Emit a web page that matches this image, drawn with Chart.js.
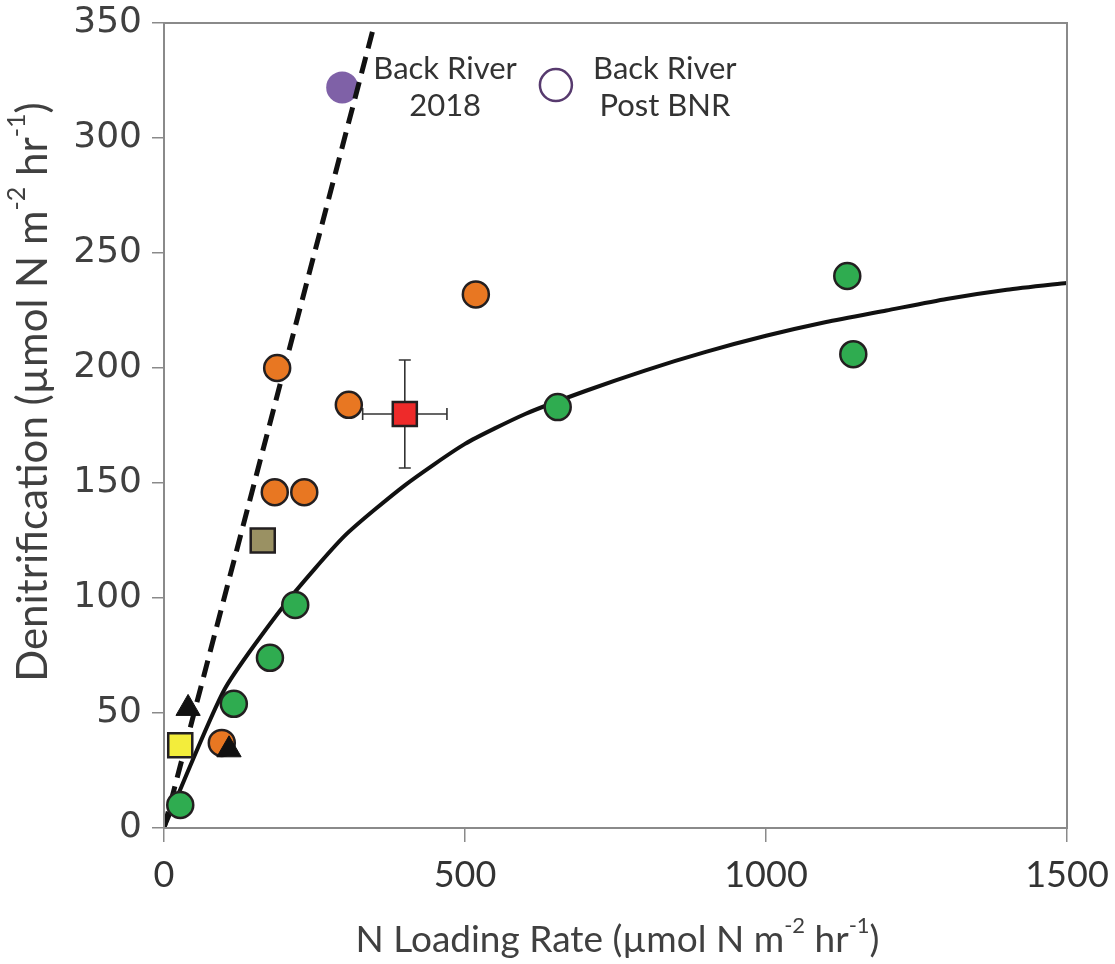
<!DOCTYPE html>
<html>
<head>
<meta charset="utf-8">
<script src="https://cdn.jsdelivr.net/npm/chart.js@4.4.1/dist/chart.umd.min.js"></script>
<style>
  html, body { margin: 0; padding: 0; background: #fff; }
  #wrap { width: 1115px; height: 964px; }
</style>
</head>
<body>
<div id="wrap"><canvas id="chart" width="1115" height="964"></canvas></div>
<script>
// Axis ticks
const xTicks = [0, 500, 1000, 1500];
const yTicks = [0, 50, 100, 150, 200, 250, 300, 350];

// Orange circles
const orangeX = [188, 184, 233, 307, 518, 96];
const orangeY = [200, 146, 146, 184, 232, 37];

// Green circles
const greenX = [27, 116, 176, 218, 654, 1135, 1145];
const greenY = [10, 54, 74, 97, 183, 240, 206];

// Squares
const yellowX = [27];   const yellowY = [36];
const oliveX = [164];   const oliveY = [125];
const redX = [400];     const redY = [180];
const redXErr = [70];   const redYErr = [23.5];

// Triangles
const triX = [40, 108];
const triY = [52, 34];

// Back River points
const br2018X = [296];  const br2018Y = [322];
const brPostX = [651];  const brPostY = [323];

// 1:1 dashed line
const oneToOneX = [0, 350];
const oneToOneY = [0, 350];

// fitted saturation curve
const fitX = [0, 100, 200, 300, 400, 500, 600, 700, 800, 900, 1000, 1100, 1200, 1300, 1400, 1500];
const fitY = [0, 60, 97, 127, 149, 167, 180, 190, 199, 207, 214, 220, 225, 230, 234, 237];

// text labels next to the Back River markers
const noteLines = [
    { x: 467, y: 330, text: 'Back River' },
    { x: 467, y: 314, text: '2018' },
    { x: 832, y: 330, text: 'Back River' },
    { x: 832, y: 314, text: 'Post BNR' }
];

const xTitle = [['N Loading Rate (\u00b5mol N m', 0], ['-2', 1], [' hr', 0], ['-1', 1], [')', 0]];
const yTitle = [['Denitrification (\u00b5mol N m', 0], ['-2', 1], [' hr', 0], ['-1', 1], [')', 0]];

const EDGE = '#231f20';

function pts(xs, ys) {
    return xs.map((x, i) => ({ x: x, y: ys[i] }));
}

function drawRich(ctx, parts, size, family) {
    // draws centered at (0,0), baseline middle
    let total = 0;
    const widths = parts.map(([t, sup]) => {
        ctx.font = (sup ? Math.round(size * 0.6) : size) + 'px ' + family;
        const w = ctx.measureText(t).width;
        total += w;
        return w;
    });
    let x = -total / 2;
    parts.forEach(([t, sup], i) => {
        ctx.font = (sup ? Math.round(size * 0.6) : size) + 'px ' + family;
        ctx.fillText(t, x, sup ? -size * 0.38 : 0);
        x += widths[i];
    });
}

const extras = {
    id: 'extras',
    beforeDatasetsDraw(chart) {
        const { ctx, scales: { x, y } } = chart;
        ctx.save();
        ctx.strokeStyle = '#333';
        ctx.lineWidth = 1.6;
        redX.forEach((vx, i) => {
            const px = x.getPixelForValue(vx);
            const py = y.getPixelForValue(redY[i]);
            const x0 = x.getPixelForValue(vx - redXErr[i]);
            const x1 = x.getPixelForValue(vx + redXErr[i]);
            const y0 = y.getPixelForValue(redY[i] - redYErr[i]);
            const y1 = y.getPixelForValue(redY[i] + redYErr[i]);
            const c = 6;
            ctx.beginPath();
            ctx.moveTo(x0, py); ctx.lineTo(x1, py);
            ctx.moveTo(x0, py - c); ctx.lineTo(x0, py + c);
            ctx.moveTo(x1, py - c); ctx.lineTo(x1, py + c);
            ctx.moveTo(px, y0); ctx.lineTo(px, y1);
            ctx.moveTo(px - c, y0); ctx.lineTo(px + c, y0);
            ctx.moveTo(px - c, y1); ctx.lineTo(px + c, y1);
            ctx.stroke();
        });
        ctx.restore();
    },
    afterDraw(chart) {
        const { ctx, chartArea: a, scales: { x, y } } = chart;
        ctx.save();
        // frame
        ctx.strokeStyle = '#8a8a8a';
        ctx.lineWidth = 2;
        ctx.strokeRect(a.left, a.top, a.right - a.left, a.bottom - a.top);

        // notes
        ctx.fillStyle = '#333';
        ctx.font = '31px Lato';
        ctx.textAlign = 'center';
        ctx.textBaseline = 'middle';
        noteLines.forEach(n => {
            ctx.fillText(n.text, x.getPixelForValue(n.x), y.getPixelForValue(n.y));
        });

        // axis titles
        ctx.fillStyle = '#404040';
        ctx.textAlign = 'left';
        ctx.textBaseline = 'middle';
        ctx.save();
        ctx.translate((a.left + a.right) / 2 + 2, 940);
        drawRich(ctx, xTitle, 37, 'Lato');
        ctx.restore();
        ctx.save();
        ctx.translate(33, 392);
        ctx.rotate(-Math.PI / 2);
        drawRich(ctx, yTitle, 42, 'Lato');
        ctx.restore();
        ctx.restore();
    }
};

const circle = (label, xs, ys, color, order) => ({
    label, data: pts(xs, ys), pointStyle: 'circle', pointRadius: 13, pointHoverRadius: 13,
    backgroundColor: color, borderColor: EDGE, borderWidth: 2.5, order
});

const square = (label, xs, ys, color) => ({
    label, data: pts(xs, ys), pointStyle: 'rect', pointRadius: 17, pointHoverRadius: 17,
    backgroundColor: color, borderColor: EDGE, borderWidth: 2.5, order: 1
});

new Chart(document.getElementById('chart'), {
    type: 'scatter',
    data: {
        datasets: [
            {
                label: 'Back River 2018', data: pts(br2018X, br2018Y), pointRadius: 16, pointHoverRadius: 16,
                backgroundColor: '#7f61a7', borderWidth: 0, order: 10
            },
            {
                label: 'Back River Post BNR', data: pts(brPostX, brPostY), pointRadius: 16, pointHoverRadius: 16,
                backgroundColor: '#ffffff', borderColor: '#573a6e', borderWidth: 2.5, order: 10
            },
            {
                label: '1:1', data: pts(oneToOneX, oneToOneY), showLine: true, pointRadius: 0,
                borderColor: '#111', borderWidth: 5, borderDash: [17, 9], order: 5
            },
            {
                label: 'fit', data: pts(fitX, fitY), showLine: true, pointRadius: 0,
                borderColor: '#111', borderWidth: 4, tension: 0.2, order: 5
            },
            circle('orange', orangeX, orangeY, '#e87722', 2),
            circle('green', greenX, greenY, '#2fac50', 2),
            square('yellow', yellowX, yellowY, '#f3ed3b'),
            square('olive', oliveX, oliveY, '#9a9163'),
            square('red', redX, redY, '#ee2a2a'),
            {
                label: 'triangles', data: pts(triX, triY), pointStyle: 'triangle', pointRadius: 14, pointHoverRadius: 14,
                backgroundColor: '#111', borderColor: '#111', borderWidth: 1, order: 0
            }
        ]
    },
    options: {
        responsive: false,
        animation: false,
        layout: { padding: { top: 23, right: 48, left: 0, bottom: 0 } },
        plugins: { legend: { display: false }, tooltip: { enabled: false } },
        scales: {
            x: {
                type: 'linear', min: 0, max: 1500,
                afterBuildTicks: s => { s.ticks = xTicks.map(v => ({ value: v })); },
                afterFit: s => { s.height = 136; s.paddingLeft = 0; s.paddingRight = 0; },
                ticks: { color: '#333', font: { family: 'Lato', size: 36 }, padding: 12, callback: v => String(v) },
                grid: { drawOnChartArea: false, drawTicks: true, tickLength: 14, color: '#8a8a8a', lineWidth: 1.5 },
                border: { color: '#8a8a8a', width: 2 }
            },
            y: {
                type: 'linear', min: 0, max: 350,
                afterBuildTicks: s => { s.ticks = yTicks.map(v => ({ value: v })); },
                afterFit: s => { s.width = 164; s.paddingTop = 0; s.paddingBottom = 0; },
                ticks: { color: '#404040', font: { family: 'DejaVu Sans', size: 36 }, padding: 10, callback: v => String(v) },
                grid: { drawOnChartArea: false, drawTicks: true, tickLength: 12, color: '#8a8a8a', lineWidth: 1.5 },
                border: { color: '#8a8a8a', width: 2 }
            }
        }
    },
    plugins: [extras]
});
</script>
</body>
</html>
